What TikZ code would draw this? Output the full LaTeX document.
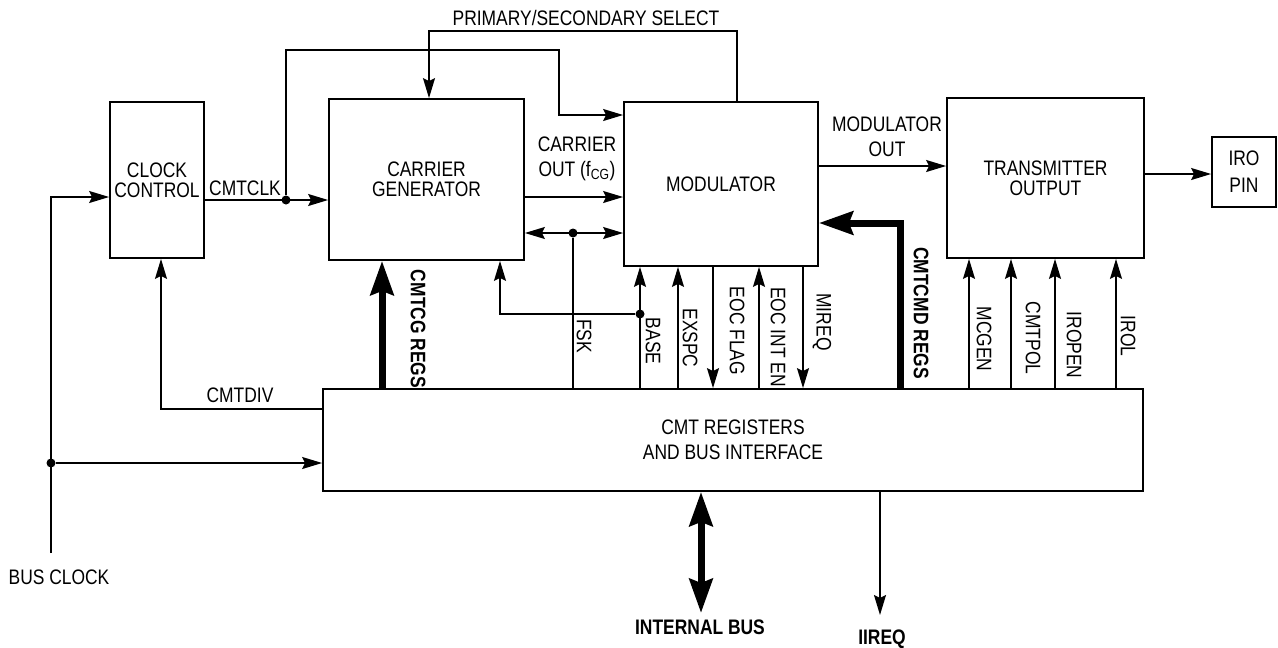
\documentclass[tikz,border=0pt]{standalone}
\usepackage{fontspec}
\setmainfont{Liberation Sans}[FakeStretch=0.83]
\usetikzlibrary{arrows.meta}
\begin{document}
\begin{tikzpicture}[x=1pt,y=-1pt,
  box/.style={draw,line width=1.8pt,inner sep=0pt,align=center,font=\fontsize{21}{20}\selectfont},
  lbl/.style={inner sep=0pt,align=center,font=\fontsize{21}{25}\selectfont},
  blbl/.style={inner sep=0pt,align=center,font=\fontsize{21}{25}\selectfont\bfseries},
  vlbl/.style={lbl,rotate=-90},
  vblbl/.style={blbl,rotate=-90},
  ln/.style={line width=1.6pt},
  arr/.style={line width=1.6pt,-{Stealth[length=20pt,width=12pt,inset=3pt]}},
  barr/.style={line width=1.6pt,{Stealth[length=20pt,width=12pt,inset=3pt]}-{Stealth[length=20pt,width=12pt,inset=3pt]}},
  thk/.style={line width=7pt,line join=miter,-{Stealth[length=34pt,width=23pt,inset=4pt]}},
  thkb/.style={line width=7pt,{Stealth[length=34pt,width=23pt,inset=4pt]}-{Stealth[length=34pt,width=23pt,inset=4pt]}},
  dot/.style={circle,fill,inner sep=0pt,minimum size=9pt}]
\useasboundingbox (0,0) rectangle (1278,648);

% blocks
\node[box,minimum width=94pt,minimum height=156pt] (cc) at (157,180) {CLOCK\\CONTROL};
\node[box,minimum width=195pt,minimum height=161pt] (cg) at (426.5,179.5) {CARRIER\\GENERATOR};
\node[box,minimum width=194pt,minimum height=164pt] (mod) at (721,184) {MODULATOR};
\node[box,minimum width=197pt,minimum height=160pt] (tx) at (1045.5,178) {TRANSMITTER\\OUTPUT};
\node[box,minimum width=64pt,minimum height=70pt,font=\fontsize{21}{27}\selectfont] (iro) at (1244,172) {IRO\\PIN};
\node[box,minimum width=820pt,minimum height=102pt,font=\fontsize{21}{25}\selectfont] (reg) at (733,440) {CMT REGISTERS\\AND BUS INTERFACE};

% junctions
\node[dot] (d0) at (51,463) {};
\node[dot] (d1) at (286,200) {};
\node[dot] (d2) at (573,233) {};
\node[dot] (d3) at (640,314) {};
\coordinate (bc) at (51,553);

% bus clock
\draw[arr] (bc) |- (cc.west |- 0,197);
\draw[arr] (d0) -- (reg.west |- d0);
\node[lbl] (lbc) at (59,577) {BUS CLOCK};

% CMTCLK
\draw[arr] (cc.east |- 0,200) -- (cg.west |- 0,200);
\node[lbl] (lclk) at (245,188) {CMTCLK};
\draw[arr] (d1) -- (286,50) -| (559,115) -- (mod.west |- 0,115);

% primary/secondary select
\draw[arr] (mod.north -| 737,0) |- (429,31) -- (cg.north -| 429,0);
\node[lbl] (lps) at (586,18) {PRIMARY/SECONDARY SELECT};

% carrier out
\draw[arr] (cg.east |- 0,197) -- (mod.west |- 0,197);
\node[lbl] (lco) at (577,159) {CARRIER\\OUT (f\textsubscript{CG})};

% FSK bidirectional
\draw[barr] (cg.east |- d2) -- (mod.west |- d2);
\draw[ln] (d2) -- (reg.north -| d2);
\node[vlbl] (lfsk) at (584,336) {FSK};

% BASE
\draw[arr] (reg.north -| d3) -- (mod.south -| d3);
\draw[arr] (d3) -| (cg.south -| 500,0);
\node[vlbl] (lbase) at (653,341) {BASE};

% EXSPC, EOC, MIREQ
\draw[arr] (reg.north -| 678,0) -- (mod.south -| 678,0);
\node[vlbl] (lexspc) at (690,338) {EXSPC};
\draw[arr] (mod.south -| 713,0) -- (reg.north -| 713,0);
\node[vlbl] (leocf) at (737,331) {EOC FLAG};
\draw[arr] (reg.north -| 759,0) -- (mod.south -| 759,0);
\node[vlbl] (leocie) at (778,337) {EOC INT EN};
\draw[arr] (mod.south -| 803,0) -- (reg.north -| 803,0);
\node[vlbl] (lmireq) at (822,322) {MIREQ};

% CMTCG REGS
\draw[thk] (reg.north -| 382,0) -- (cg.south -| 382,0);
\node[vblbl] (lcg) at (418,329) {CMTCG REGS};

% CMTDIV
\draw[arr] (reg.west |- 0,409) -| (cc.south -| 161,0);
\node[lbl] (ldiv) at (240,395) {CMTDIV};

% CMTCMD REGS
\draw[thk] (reg.north -| 900,0) |- (mod.east |- 0,223);
\node[vblbl] (lcmd) at (921,313) {CMTCMD REGS};

% modulator out
\draw[arr] (mod.east |- 0,166) -- (tx.west |- 0,166);
\node[lbl] (lmo) at (887,137) {MODULATOR\\OUT};

% transmitter to IRO pin
\draw[arr] (tx.east |- 0,174) -- (iro.west |- 0,174);

% transmitter inputs
\draw[arr] (reg.north -| 969,0) -- (tx.south -| 969,0);
\node[vlbl] (lmcgen) at (984,339) {MCGEN};
\draw[arr] (reg.north -| 1011,0) -- (tx.south -| 1011,0);
\node[vlbl] (lpol) at (1033,338) {CMTPOL};
\draw[arr] (reg.north -| 1055,0) -- (tx.south -| 1055,0);
\node[vlbl] (liropen) at (1074,345) {IROPEN};
\draw[arr] (reg.north -| 1116,0) -- (tx.south -| 1116,0);
\node[vlbl] (lirol) at (1128,336) {IROL};

% internal bus and IIREQ
\draw[thkb] (reg.south -| 701,0) -- (701,613);
\node[blbl] (lib) at (700,627) {INTERNAL BUS};
\draw[arr] (reg.south -| 880,0) -- (880,615);
\node[blbl] (liireq) at (882,639) {IIREQ};
\end{tikzpicture}
\end{document}
